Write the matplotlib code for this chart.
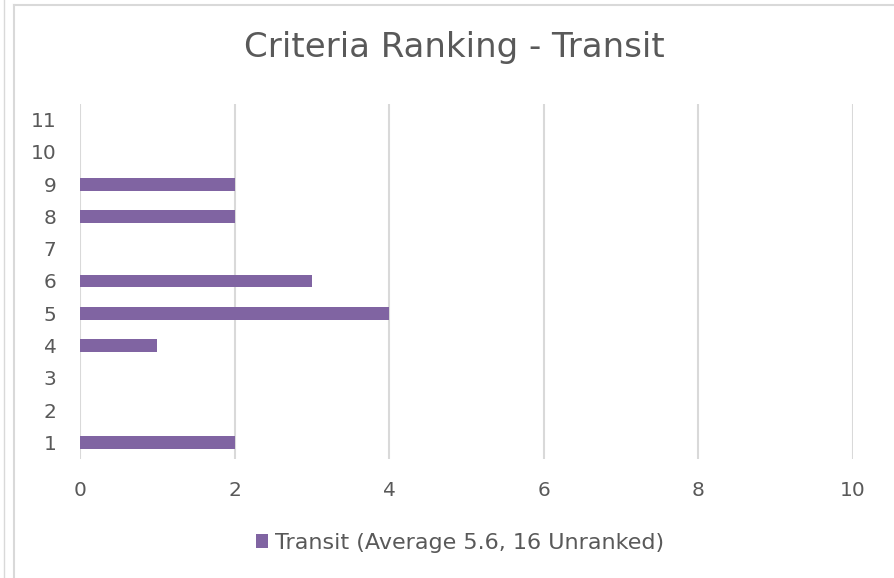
import matplotlib
matplotlib.use("Agg")
import matplotlib.pyplot as plt
from matplotlib.lines import Line2D
from matplotlib.patches import Patch

# Ranking positions and how many respondents put Transit there
ranks = [1, 2, 3, 4, 5, 6, 7, 8, 9, 10, 11]
counts = [2, 0, 0, 1, 4, 3, 0, 2, 2, 0, 0]
x_ticks = [0, 2, 4, 6, 8, 10]
title = "Criteria Ranking - Transit"
legend_label = "Transit (Average 5.6, 16 Unranked)"

bar_color = "#8064a2"
text_color = "#595959"
grid_color = "#d9d9d9"

plt.rcParams['font.family'] = ['DejaVu Sans']

fig = plt.figure(figsize=(8.94, 5.78), dpi=100)

# chart frame lines (cell border look)
fig.add_artist(Line2D([14 / 894, 14 / 894], [0, 1 - 5 / 578], color=grid_color, lw=1.5))
fig.add_artist(Line2D([14 / 894, 1], [1 - 5 / 578, 1 - 5 / 578], color=grid_color, lw=1.5))
fig.add_artist(Line2D([4 / 894, 4 / 894], [0, 1], color=grid_color, lw=1.0))

ax = fig.add_axes([80 / 894, 1 - 458.5 / 578, (853 - 80) / 894, (458.5 - 103.5) / 578])
ax.barh(ranks, counts, height=0.4, color=bar_color, zorder=3)

ax.set_xlim(0, 10)
ax.set_ylim(0.5, 11.5)
ax.set_xticks(x_ticks)
ax.set_yticks(ranks)
ax.set_yticklabels([str(r) for r in ranks])
ax.xaxis.grid(True, color=grid_color, lw=1.5, zorder=0)
ax.yaxis.grid(False)
for s in ax.spines.values():
    s.set_visible(False)
ax.tick_params(axis='both', length=0, colors=text_color, labelsize=14.5)
ax.tick_params(axis='x', pad=16)
ax.tick_params(axis='y', pad=17)

fig.text(454 / 894, 1 - 48 / 578, title, ha='center', va='center',
         fontsize=24.5, color=text_color)

handle = Patch(facecolor=bar_color, edgecolor='none')
fig.legend([handle], [legend_label], loc='center', bbox_to_anchor=(460 / 894, 1 - 543 / 578),
           frameon=False, fontsize=16, labelcolor=text_color, handlelength=0.55,
           handleheight=0.55, handletextpad=0.3)

fig.savefig("out.png", dpi=100, facecolor='white')
